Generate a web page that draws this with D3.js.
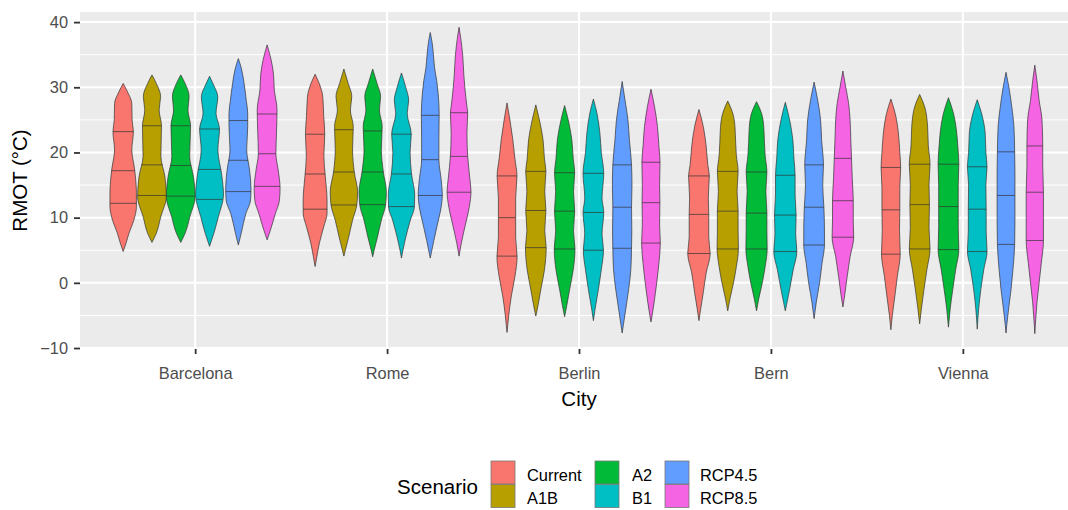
<!DOCTYPE html>
<html>
<head>
<meta charset="utf-8">
<script src="https://cdn.jsdelivr.net/npm/d3@7"></script>
<style>
  body { margin: 0; background: #fff; }
  svg { display: block; font-family: "Liberation Sans", Arial, sans-serif; }
</style>
</head>
<body>
<svg id="chart" width="1068" height="510"></svg>
<script>
const cities = ['Barcelona', 'Rome', 'Berlin', 'Bern', 'Vienna'];
const scenarios = ['Current', 'A1B', 'A2', 'B1', 'RCP4.5', 'RCP8.5'];
const colors = ['#F8766D', '#B79F00', '#00BA38', '#00BFC4', '#619CFF', '#F564E3'];
const yTicks = [-10, 0, 10, 20, 30, 40];
const yMinor = [-5, 5, 15, 25, 35];

// quartiles, one row per city, one column per scenario
const q25 = [
  [12.2, 13.4, 13.3, 12.8, 14.0, 14.8],
  [11.3, 11.95, 12.0, 11.7, 13.4, 13.9],
  [4.1, 5.4, 5.2, 5.0, 5.3, 6.1],
  [4.5, 5.2, 5.2, 4.8, 5.8, 7.0],
  [4.4, 5.2, 5.1, 4.8, 5.9, 6.5]
];
const q50 = [
  [17.2, 18.1, 18.0, 17.4, 18.8, 19.8],
  [16.7, 17.0, 17.0, 16.7, 18.9, 19.4],
  [10.0, 11.1, 11.0, 10.8, 11.6, 12.3],
  [10.5, 11.0, 10.7, 10.4, 11.6, 12.6],
  [11.2, 12.0, 11.7, 11.3, 13.4, 13.9]
];
const q75 = [
  [23.2, 24.1, 24.1, 23.6, 24.9, 25.9],
  [22.8, 23.5, 23.3, 22.8, 25.7, 26.1],
  [16.4, 17.1, 16.9, 16.8, 18.1, 18.5],
  [16.4, 17.1, 17.0, 16.5, 18.1, 19.1],
  [17.7, 18.2, 18.2, 17.8, 20.1, 21.0]
];

// violin outlines: [temperature, relative density] pairs, from top tip to bottom tip
const profBarcelona = [
  [[30.6,0],[29.3,0.3],[27.5,0.6],[25,0.62],[23.2,0.71],[20.4,0.6],[17.3,0.8],[13.7,0.92],[11.7,0.92],[9.6,0.74],[7.6,0.4],[6.1,0.2],[4.8,0]],
  [[31.9,0],[30.6,0.3],[28.6,0.6],[26.5,0.5],[24.1,0.66],[19.4,0.62],[16.3,0.9],[13.2,1.0],[10.2,0.62],[7.6,0.3],[6.2,0]],
  [[31.9,0],[30.6,0.3],[28.6,0.58],[26.5,0.5],[24.1,0.68],[19.4,0.62],[16.3,0.88],[13.2,1.0],[10.2,0.64],[7.6,0.3],[6.2,0]],
  [[31.7,0],[30.5,0.25],[28.5,0.57],[26,0.45],[23.6,0.69],[20.4,0.58],[16.5,0.85],[13.5,0.97],[10.2,0.62],[7.6,0.3],[5.6,0]],
  [[34.4,0],[33,0.2],[30.6,0.4],[28,0.55],[26,0.65],[24,0.65],[20.4,0.58],[17.3,0.78],[14.5,0.88],[12.7,0.85],[10.6,0.52],[7.6,0.2],[5.8,0]],
  [[36.5,0],[34.2,0.28],[32.1,0.44],[29.6,0.5],[26.5,0.69],[23,0.65],[19.8,0.61],[17.3,0.77],[14.5,0.9],[12.6,0.85],[10.6,0.57],[8.1,0.23],[6.6,0]]
];
const profRome = [
  [[32,0],[30.5,0.3],[28.6,0.53],[25.5,0.6],[22.9,0.67],[19.4,0.61],[16.3,0.71],[12.7,0.83],[10.7,0.83],[8.6,0.6],[6.1,0.3],[4,0.12],[2.5,0]],
  [[32.8,0],[30.6,0.3],[28.6,0.55],[26.5,0.45],[24,0.65],[20.4,0.6],[17,0.72],[14,0.95],[12,0.9],[9.6,0.6],[7,0.33],[5,0.1],[4.1,0]],
  [[32.8,0],[30.6,0.3],[28.6,0.55],[26.5,0.47],[24,0.66],[20.4,0.6],[17,0.74],[14,0.95],[12,0.9],[9.6,0.6],[7,0.33],[5,0.1],[4,0]],
  [[32.2,0],[30,0.3],[28,0.5],[26,0.4],[22.8,0.68],[20,0.6],[16.7,0.7],[13.5,0.92],[11.7,0.9],[9.5,0.6],[7,0.3],[5,0.1],[3.8,0]],
  [[38.4,0],[37,0.12],[35,0.22],[33,0.3],[31,0.45],[29,0.55],[26,0.62],[22,0.6],[18.9,0.6],[16,0.75],[13.5,0.84],[11.5,0.75],[9,0.5],[6.5,0.25],[3.8,0]],
  [[39.2,0],[37.5,0.12],[35,0.25],[32,0.33],[30,0.4],[27,0.55],[26.1,0.6],[23,0.55],[19.4,0.6],[16,0.75],[14,0.83],[11.5,0.7],[9,0.45],[6,0.15],[4.1,0]]
];
const profBerlin = [
  [[27.6,0],[25,0.2],[22,0.4],[19,0.55],[16.4,0.69],[13,0.6],[10,0.6],[7,0.6],[4,0.7],[1,0.55],[-2,0.3],[-5,0.12],[-7.6,0]],
  [[27.3,0],[25,0.25],[22,0.5],[19,0.6],[17.1,0.7],[14,0.62],[11.1,0.7],[8,0.62],[5.4,0.72],[2,0.6],[-1,0.35],[-3.5,0.15],[-5.1,0]],
  [[27.2,0],[25,0.25],[22,0.5],[19,0.6],[16.9,0.7],[14,0.62],[11,0.7],[8,0.62],[5.2,0.72],[2,0.6],[-1,0.35],[-3.5,0.15],[-5.2,0]],
  [[28.2,0],[26,0.25],[23,0.45],[20,0.55],[16.8,0.72],[13,0.6],[10.8,0.72],[7.5,0.6],[5,0.7],[2,0.55],[-1,0.35],[-4,0.12],[-5.8,0]],
  [[30.9,0],[28,0.2],[25,0.4],[22,0.5],[18.1,0.65],[15,0.68],[11.6,0.65],[8,0.67],[5.3,0.65],[2,0.6],[-1,0.45],[-4,0.25],[-6.5,0.08],[-7.7,0]],
  [[29.7,0],[27,0.25],[24,0.45],[21,0.55],[18.5,0.63],[15,0.6],[12.3,0.62],[9,0.6],[6.1,0.65],[3,0.55],[0,0.4],[-3,0.22],[-5,0.08],[-6,0]]
];
const profBern = [
  [[26.6,0],[24,0.3],[21,0.5],[18,0.62],[16.4,0.72],[13,0.65],[10.5,0.68],[7,0.68],[4.5,0.78],[1.5,0.5],[-1.5,0.3],[-4,0.12],[-5.8,0]],
  [[27.9,0],[26,0.35],[24,0.5],[21.5,0.55],[19.5,0.6],[17.1,0.72],[14,0.65],[11,0.72],[8,0.72],[5.2,0.74],[2.5,0.6],[0,0.4],[-2.5,0.15],[-4.3,0]],
  [[27.8,0],[26,0.35],[24,0.5],[21.5,0.55],[19.5,0.6],[17,0.72],[14,0.65],[10.7,0.72],[8,0.72],[5.2,0.74],[2.5,0.6],[0,0.4],[-2.5,0.15],[-4.3,0]],
  [[27.7,0],[25,0.3],[22,0.52],[19,0.6],[16.5,0.68],[13.5,0.68],[10.4,0.75],[7.5,0.72],[4.8,0.8],[2,0.55],[-1,0.3],[-3,0.12],[-4.3,0]],
  [[30.8,0],[28,0.25],[25,0.45],[22,0.52],[18.1,0.65],[15,0.6],[11.6,0.68],[8,0.72],[5.8,0.72],[3,0.55],[0,0.38],[-3,0.15],[-5.5,0]],
  [[32.5,0],[30,0.2],[27.5,0.4],[25,0.5],[22,0.55],[19.1,0.6],[16,0.65],[12.6,0.72],[9.5,0.72],[7,0.75],[4,0.5],[1,0.3],[-2,0.12],[-3.7,0]]
];
const profVienna = [
  [[28.2,0],[26,0.3],[23,0.52],[20,0.62],[17.7,0.68],[14.5,0.62],[11.2,0.62],[8,0.6],[4.4,0.65],[1,0.45],[-2,0.28],[-5,0.1],[-7.2,0]],
  [[28.9,0],[27,0.35],[24,0.55],[21,0.6],[18.2,0.72],[15,0.65],[12,0.68],[8.5,0.65],[5.2,0.72],[2,0.5],[-1,0.3],[-4,0.12],[-6.3,0]],
  [[28.4,0],[26,0.35],[23.5,0.55],[21,0.65],[18.2,0.72],[15,0.68],[11.7,0.68],[8.5,0.68],[5.1,0.72],[2,0.5],[-1,0.3],[-4,0.12],[-6.8,0]],
  [[28.1,0],[26,0.3],[23,0.55],[20,0.6],[17.8,0.68],[15,0.6],[11.3,0.62],[8,0.62],[4.8,0.68],[2,0.45],[-1,0.25],[-4,0.1],[-7.1,0]],
  [[32.3,0],[30,0.2],[27,0.4],[24,0.55],[20.1,0.6],[17,0.62],[13.4,0.62],[9.5,0.62],[5.9,0.6],[2,0.48],[-1,0.35],[-4,0.18],[-6.5,0.05],[-7.7,0]],
  [[33.4,0],[31,0.15],[28,0.3],[25,0.5],[21,0.55],[18,0.55],[13.9,0.6],[10,0.6],[6.5,0.6],[3,0.45],[0,0.3],[-3,0.15],[-6,0.05],[-7.8,0]]
];
const profiles = [profBarcelona, profRome, profBerlin, profBern, profVienna];

// layout
const panel = { left: 80, top: 12, right: 1078, bottom: 349 };
const svg = d3.select('#chart');

// flatten into one record per violin
const violins = [];
cities.forEach((city, ci) => {
  scenarios.forEach((sc, si) => {
    violins.push({
      city: city,
      scenario: sc,
      prof: profiles[ci][si].slice().sort((a, b) => a[0] - b[0]),
      q: [q25[ci][si], q50[ci][si], q75[ci][si]]
    });
  });
});

// y range like ggplot: data extent expanded by 5%
const ext = d3.extent(violins.flatMap(v => v.prof.map(p => p[0])));
const pad = (ext[1] - ext[0]) * 0.05;
const y = d3.scaleLinear().domain([ext[0] - pad, ext[1] + pad]).range([panel.bottom, panel.top]);

const x = d3.scalePoint().domain(cities).range([panel.left, panel.right]).padding(0.6);
const dodge = d3.scaleBand().domain(scenarios).range([-0.45 * x.step(), 0.45 * x.step()]);
const w = d3.scaleLinear().domain([0, 1]).range([0, dodge.bandwidth() / 2]);
const fill = d3.scaleOrdinal().domain(scenarios).range(colors);

// panel background + grid
svg.append('rect')
  .attr('x', panel.left).attr('y', panel.top)
  .attr('width', panel.right - panel.left).attr('height', panel.bottom - panel.top)
  .attr('fill', '#EBEBEB');

svg.append('g').selectAll('line')
  .data(yMinor)
  .join('line')
    .attr('x1', panel.left).attr('x2', panel.right)
    .attr('y1', d => y(d)).attr('y2', d => y(d))
    .attr('stroke', '#fff').attr('stroke-width', 1);

svg.append('g').selectAll('line')
  .data(yTicks)
  .join('line')
    .attr('x1', panel.left).attr('x2', panel.right)
    .attr('y1', d => y(d)).attr('y2', d => y(d))
    .attr('stroke', '#fff').attr('stroke-width', 2);

svg.append('g').selectAll('line')
  .data(cities)
  .join('line')
    .attr('x1', d => x(d)).attr('x2', d => x(d))
    .attr('y1', panel.top).attr('y2', panel.bottom)
    .attr('stroke', '#fff').attr('stroke-width', 2);

// violins
const area = d3.area()
  .curve(d3.curveMonotoneY)
  .y(d => y(d[0]))
  .x0(d => -w(d[1]))
  .x1(d => w(d[1]));

function widthAt(prof, t) {
  for (let i = 1; i < prof.length; i++) {
    if (t <= prof[i][0]) {
      const a = prof[i - 1], b = prof[i];
      const k = (t - a[0]) / (b[0] - a[0]);
      return a[1] + k * (b[1] - a[1]);
    }
  }
  return 0;
}

const vg = svg.append('g').selectAll('g')
  .data(violins)
  .join('g')
    .attr('transform', d => 'translate(' + (x(d.city) + dodge(d.scenario) + dodge.bandwidth() / 2) + ',0)');

vg.append('path')
  .attr('d', d => area(d.prof))
  .attr('fill', d => fill(d.scenario))
  .attr('stroke', '#333')
  .attr('stroke-width', 0.7);

vg.selectAll('line')
  .data(d => d.q.map(t => ({ t: t, half: w(widthAt(d.prof, t)) })))
  .join('line')
    .attr('x1', d => -d.half).attr('x2', d => d.half)
    .attr('y1', d => y(d.t)).attr('y2', d => y(d.t))
    .attr('stroke', '#333')
    .attr('stroke-width', 0.7);

// axes
const yAxis = svg.append('g')
  .attr('transform', 'translate(' + panel.left + ',0)')
  .call(d3.axisLeft(y).tickValues(yTicks).tickSize(6).tickPadding(6));
yAxis.select('.domain').remove();
yAxis.selectAll('line').attr('stroke', '#333').attr('stroke-width', 1.8);
yAxis.selectAll('text').attr('fill', '#4D4D4D').attr('font-size', '16.4px')
  .attr('font-family', '"Liberation Sans", Arial, sans-serif');

const xAxis = svg.append('g')
  .attr('transform', 'translate(0,' + panel.bottom + ')')
  .call(d3.axisBottom(x).tickSize(5).tickPadding(13));
xAxis.select('.domain').remove();
xAxis.selectAll('line').attr('stroke', '#333').attr('stroke-width', 1.8);
xAxis.selectAll('text').attr('fill', '#4D4D4D').attr('font-size', '16.4px')
  .attr('font-family', '"Liberation Sans", Arial, sans-serif');

// axis titles
svg.append('text')
  .attr('x', (panel.left + panel.right) / 2)
  .attr('y', 406)
  .attr('text-anchor', 'middle')
  .attr('font-size', '20.5px')
  .attr('fill', '#000')
  .text('City');

svg.append('text')
  .attr('transform', 'translate(27,' + (panel.top + panel.bottom) / 2 + ')rotate(-90)')
  .attr('text-anchor', 'middle')
  .attr('font-size', '20.5px')
  .attr('fill', '#000')
  .text('RMOT (°C)');

// legend
const legend = svg.append('g');
legend.append('text')
  .attr('x', 478)
  .attr('y', 494)
  .attr('text-anchor', 'end')
  .attr('font-size', '20.5px')
  .attr('fill', '#000')
  .text('Scenario');

const keyX = [491, 595, 665];
const textX = [527, 632, 700];
const keys = legend.selectAll('g')
  .data(scenarios)
  .join('g')
    .attr('transform', (d, i) => 'translate(' + keyX[Math.floor(i / 2)] + ',' + (461 + (i % 2) * 23.5) + ')');

keys.append('rect')
  .attr('width', 24).attr('height', 23)
  .attr('fill', d => fill(d))
  .attr('stroke', '#777')
  .attr('stroke-width', 0.8);

keys.append('text')
  .attr('x', (d, i) => textX[Math.floor(i / 2)] - keyX[Math.floor(i / 2)])
  .attr('y', 19.5)
  .attr('font-size', '16.4px')
  .attr('fill', '#000')
  .text(d => d);
</script>
</body>
</html>
